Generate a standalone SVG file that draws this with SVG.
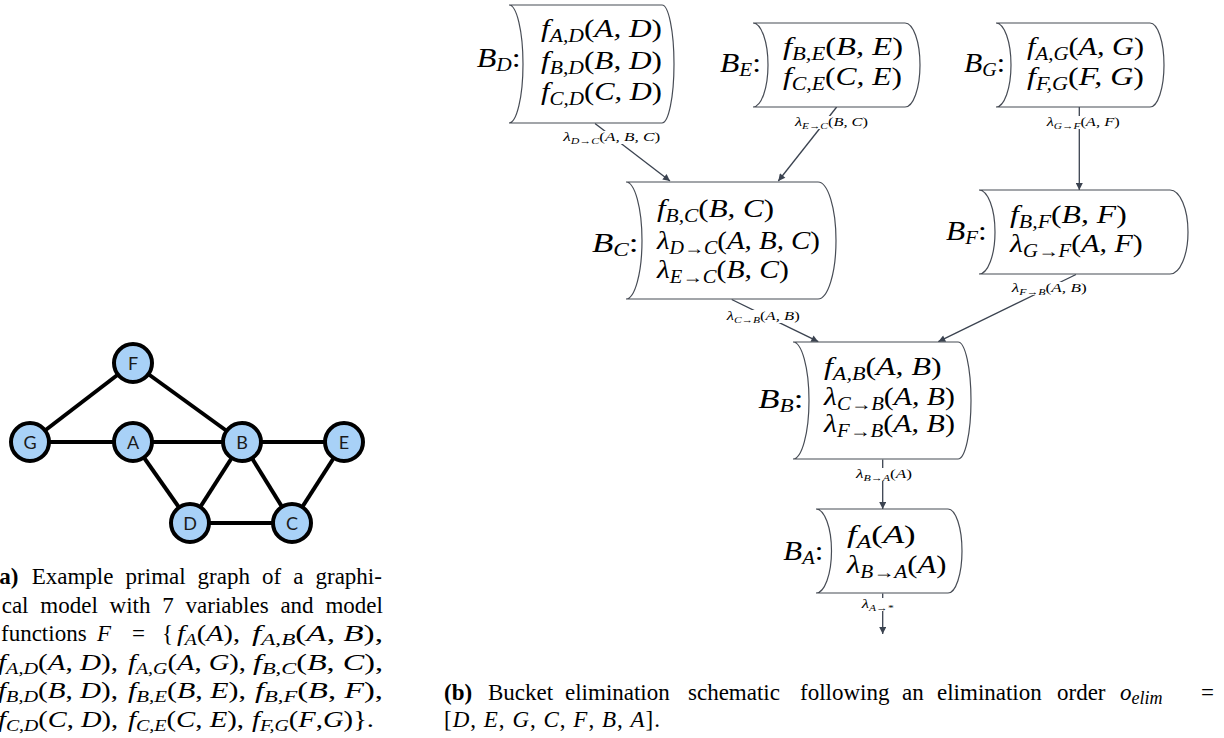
<svg xmlns="http://www.w3.org/2000/svg" width="1224" height="738" viewBox="0 0 1224 738">
<style>
.cap{font-family:"Liberation Serif",serif;font-size:23px;fill:#000}
.i{font-style:italic}
.s{font-size:16px}
.b{font-weight:bold}
.bk{font-family:"Liberation Serif",serif;font-style:italic;font-size:26px;fill:#000}
.bs{font-size:18px}
.bl{font-family:"Liberation Serif",serif;font-style:italic;font-size:27px;fill:#000}
.up{font-style:normal}
.sm{font-family:"Liberation Serif",serif;font-style:italic;font-size:13px;fill:#000}
.ss{font-size:9px}
.bucket{fill:#fff;stroke:#474c55;stroke-width:1.2}
.edge{stroke:#3b4350;stroke-width:1.3;fill:none}
.gedge{stroke:#000;stroke-width:4}
.gnode{fill:#a8d1f7;stroke:#000;stroke-width:4}
.glab{font-family:Lato,"Open Sans",sans-serif;font-size:18px;fill:#1a1a1a;text-anchor:middle}
</style>
<defs>
<marker id="ah" viewBox="0 0 10 10" refX="10" refY="5" markerWidth="10" markerHeight="7" markerUnits="userSpaceOnUse" orient="auto"><path d="M0,0 L10,5 L0,10 z" fill="#3b4350"/></marker>
</defs>
<rect width="1224" height="738" fill="#fff"/>

<!-- (a) primal graph -->
<g id="graph-edges">
<line class="gedge" x1="30" y1="442" x2="133" y2="363"/>
<line class="gedge" x1="133" y1="363" x2="242" y2="442"/>
<line class="gedge" x1="30" y1="442" x2="133" y2="442"/>
<line class="gedge" x1="133" y1="442" x2="242" y2="442"/>
<line class="gedge" x1="242" y1="442" x2="344" y2="442"/>
<line class="gedge" x1="133" y1="442" x2="190" y2="523"/>
<line class="gedge" x1="242" y1="442" x2="190" y2="523"/>
<line class="gedge" x1="242" y1="442" x2="292" y2="523"/>
<line class="gedge" x1="344" y1="442" x2="292" y2="523"/>
<line class="gedge" x1="190" y1="523" x2="292" y2="523"/>
</g>
<g id="node-F"><circle class="gnode" cx="133" cy="363" r="19"/><text class="glab" x="133" y="369.5">F</text></g>
<g id="node-G"><circle class="gnode" cx="30" cy="442" r="19"/><text class="glab" x="30" y="448.5">G</text></g>
<g id="node-A"><circle class="gnode" cx="133" cy="442" r="19"/><text class="glab" x="133" y="448.5">A</text></g>
<g id="node-B"><circle class="gnode" cx="242" cy="442" r="19"/><text class="glab" x="242" y="448.5">B</text></g>
<g id="node-E"><circle class="gnode" cx="344" cy="442" r="19"/><text class="glab" x="344" y="448.5">E</text></g>
<g id="node-D"><circle class="gnode" cx="190" cy="523" r="19"/><text class="glab" x="190" y="529.5">D</text></g>
<g id="node-C"><circle class="gnode" cx="292" cy="523" r="19"/><text class="glab" x="292" y="529.5">C</text></g>

<!-- caption (a) -->
<g id="caption-a">
<text class="cap" x="-8.4" y="584"><tspan class="b">(a)</tspan><tspan x="31.7">Example</tspan><tspan x="125.6">primal</tspan><tspan x="197.6">graph</tspan><tspan x="262">of</tspan><tspan x="293.3">a</tspan><tspan x="315.5">graphi-</tspan></text>
<text class="cap" x="1.7" y="612.5">cal<tspan x="40.3">model</tspan><tspan x="109.6">with</tspan><tspan x="162.3">7</tspan><tspan x="185.6">variables</tspan><tspan x="280.4">and</tspan><tspan x="325.4">model</tspan></text>
<text class="cap" x="1" y="641">functions<tspan x="97" class="i">F</tspan><tspan x="132">=</tspan><tspan x="162">{</tspan></text>
<text class="cap" x="177" y="641" textLength="63" lengthAdjust="spacingAndGlyphs"><tspan class="i">f</tspan><tspan class="i s" dy="4">A</tspan><tspan dy="-4">(</tspan><tspan class="i">A</tspan>),</text>
<text class="cap" x="252" y="641" textLength="131" lengthAdjust="spacingAndGlyphs"><tspan class="i">f</tspan><tspan class="i s" dy="4">A,B</tspan><tspan dy="-4">(</tspan><tspan class="i">A</tspan>, <tspan class="i">B</tspan>),</text>
<text class="cap" x="-2" y="669.5" textLength="120" lengthAdjust="spacingAndGlyphs"><tspan class="i">f</tspan><tspan class="i s" dy="4">A,D</tspan><tspan dy="-4">(</tspan><tspan class="i">A</tspan>, <tspan class="i">D</tspan>),</text>
<text class="cap" x="128" y="669.5" textLength="118" lengthAdjust="spacingAndGlyphs"><tspan class="i">f</tspan><tspan class="i s" dy="4">A,G</tspan><tspan dy="-4">(</tspan><tspan class="i">A</tspan>, <tspan class="i">G</tspan>),</text>
<text class="cap" x="253" y="669.5" textLength="130" lengthAdjust="spacingAndGlyphs"><tspan class="i">f</tspan><tspan class="i s" dy="4">B,C</tspan><tspan dy="-4">(</tspan><tspan class="i">B</tspan>, <tspan class="i">C</tspan>),</text>
<text class="cap" x="-2" y="698" textLength="120" lengthAdjust="spacingAndGlyphs"><tspan class="i">f</tspan><tspan class="i s" dy="4">B,D</tspan><tspan dy="-4">(</tspan><tspan class="i">B</tspan>, <tspan class="i">D</tspan>),</text>
<text class="cap" x="128" y="698" textLength="118" lengthAdjust="spacingAndGlyphs"><tspan class="i">f</tspan><tspan class="i s" dy="4">B,E</tspan><tspan dy="-4">(</tspan><tspan class="i">B</tspan>, <tspan class="i">E</tspan>),</text>
<text class="cap" x="255" y="698" textLength="128" lengthAdjust="spacingAndGlyphs"><tspan class="i">f</tspan><tspan class="i s" dy="4">B,F</tspan><tspan dy="-4">(</tspan><tspan class="i">B</tspan>, <tspan class="i">F</tspan>),</text>
<text class="cap" x="-2" y="726.5" textLength="120" lengthAdjust="spacingAndGlyphs"><tspan class="i">f</tspan><tspan class="i s" dy="4">C,D</tspan><tspan dy="-4">(</tspan><tspan class="i">C</tspan>, <tspan class="i">D</tspan>),</text>
<text class="cap" x="128" y="726.5" textLength="116" lengthAdjust="spacingAndGlyphs"><tspan class="i">f</tspan><tspan class="i s" dy="4">C,E</tspan><tspan dy="-4">(</tspan><tspan class="i">C</tspan>, <tspan class="i">E</tspan>),</text>
<text class="cap" x="252" y="726.5" textLength="122" lengthAdjust="spacingAndGlyphs"><tspan class="i">f</tspan><tspan class="i s" dy="4">F,G</tspan><tspan dy="-4">(</tspan><tspan class="i">F</tspan>,<tspan class="i">G</tspan>)}.</text>
</g>

<!-- (b) bucket elimination -->
<g id="connectors">
<line class="edge" x1="595" y1="123.5" x2="670" y2="181" marker-end="url(#ah)"/>
<line class="edge" x1="836.7" y1="107" x2="778.3" y2="181" marker-end="url(#ah)"/>
<line class="edge" x1="1079.3" y1="107" x2="1079.3" y2="190" marker-end="url(#ah)"/>
<line class="edge" x1="731.7" y1="299.5" x2="818.3" y2="341.7" marker-end="url(#ah)"/>
<line class="edge" x1="1076" y1="274.5" x2="938.3" y2="341.7" marker-end="url(#ah)"/>
<line class="edge" x1="882.7" y1="459.5" x2="882.7" y2="509" marker-end="url(#ah)"/>
<line class="edge" x1="882.7" y1="593.5" x2="882.7" y2="634" marker-end="url(#ah)"/>
<g fill="#fff">
<rect x="565" y="131" width="93" height="13"/>
<rect x="797" y="116" width="69" height="13"/>
<rect x="1049" y="116" width="69" height="13"/>
<rect x="729" y="310" width="69" height="13"/>
<rect x="1014" y="282" width="71" height="13"/>
<rect x="858" y="468" width="52" height="13"/>
<rect x="863" y="598" width="29" height="13"/>
</g>
<text class="sm" x="563.3" y="141" textLength="97" lengthAdjust="spacingAndGlyphs">λ<tspan class="ss" dy="3">D→C</tspan><tspan class="up" dy="-3">(</tspan>A, B, C<tspan class="up">)</tspan></text>
<text class="sm" x="795" y="126" textLength="73" lengthAdjust="spacingAndGlyphs">λ<tspan class="ss" dy="3">E→C</tspan><tspan class="up" dy="-3">(</tspan>B, C<tspan class="up">)</tspan></text>
<text class="sm" x="1046.7" y="126" textLength="73" lengthAdjust="spacingAndGlyphs">λ<tspan class="ss" dy="3">G→F</tspan><tspan class="up" dy="-3">(</tspan>A, F<tspan class="up">)</tspan></text>
<text class="sm" x="726.7" y="320" textLength="73" lengthAdjust="spacingAndGlyphs">λ<tspan class="ss" dy="3">C→B</tspan><tspan class="up" dy="-3">(</tspan>A, B<tspan class="up">)</tspan></text>
<text class="sm" x="1011.7" y="291.7" textLength="75" lengthAdjust="spacingAndGlyphs">λ<tspan class="ss" dy="3">F→B</tspan><tspan class="up" dy="-3">(</tspan>A, B<tspan class="up">)</tspan></text>
<text class="sm" x="856" y="478.3" textLength="56" lengthAdjust="spacingAndGlyphs">λ<tspan class="ss" dy="3">B→A</tspan><tspan class="up" dy="-3">(</tspan>A<tspan class="up">)</tspan></text>
<text class="sm" x="861.7" y="608" textLength="31.6" lengthAdjust="spacingAndGlyphs">λ<tspan class="ss" dy="3">A→*</tspan></text>
</g>

<g id="bucket-D">
<path class="bucket" d="M509,5 H662 A12,59 0 0 1 662,123 H509 A14,59 0 0 0 509,5 Z"/>
<text class="bl" x="476.7" y="66.7" textLength="44" lengthAdjust="spacingAndGlyphs">B<tspan class="bs" dy="4">D</tspan><tspan class="up" dy="-4">:</tspan></text>
<text class="bk" x="541" y="37" textLength="121" lengthAdjust="spacingAndGlyphs">f<tspan class="bs" dy="5">A,D</tspan><tspan class="up" dy="-5">(</tspan>A, D<tspan class="up">)</tspan></text>
<text class="bk" x="541" y="68.5" textLength="121" lengthAdjust="spacingAndGlyphs">f<tspan class="bs" dy="5">B,D</tspan><tspan class="up" dy="-5">(</tspan>B, D<tspan class="up">)</tspan></text>
<text class="bk" x="541" y="100" textLength="121" lengthAdjust="spacingAndGlyphs">f<tspan class="bs" dy="5">C,D</tspan><tspan class="up" dy="-5">(</tspan>C, D<tspan class="up">)</tspan></text>
</g>

<g id="bucket-E">
<path class="bucket" d="M753,23 H905 A15,42 0 0 1 905,107 H753 A15,42 0 0 0 753,23 Z"/>
<text class="bl" x="720" y="71.7" textLength="41" lengthAdjust="spacingAndGlyphs">B<tspan class="bs" dy="4">E</tspan><tspan class="up" dy="-4">:</tspan></text>
<text class="bk" x="783" y="55" textLength="120" lengthAdjust="spacingAndGlyphs">f<tspan class="bs" dy="5">B,E</tspan><tspan class="up" dy="-5">(</tspan>B, E<tspan class="up">)</tspan></text>
<text class="bk" x="783" y="85" textLength="119" lengthAdjust="spacingAndGlyphs">f<tspan class="bs" dy="5">C,E</tspan><tspan class="up" dy="-5">(</tspan>C, E<tspan class="up">)</tspan></text>
</g>

<g id="bucket-G">
<path class="bucket" d="M996,23 H1150 A14,42 0 0 1 1150,107 H996 A15,42 0 0 0 996,23 Z"/>
<text class="bl" x="964" y="71.7" textLength="41" lengthAdjust="spacingAndGlyphs">B<tspan class="bs" dy="4">G</tspan><tspan class="up" dy="-4">:</tspan></text>
<text class="bk" x="1027" y="55" textLength="117" lengthAdjust="spacingAndGlyphs">f<tspan class="bs" dy="5">A,G</tspan><tspan class="up" dy="-5">(</tspan>A, G<tspan class="up">)</tspan></text>
<text class="bk" x="1027" y="85" textLength="117" lengthAdjust="spacingAndGlyphs">f<tspan class="bs" dy="5">F,G</tspan><tspan class="up" dy="-5">(</tspan>F, G<tspan class="up">)</tspan></text>
</g>

<g id="bucket-C">
<path class="bucket" d="M626,182 H818 A18,58.5 0 0 1 818,299 H626 A16,58.5 0 0 0 626,182 Z"/>
<text class="bl" x="592" y="251.7" textLength="46.6" lengthAdjust="spacingAndGlyphs">B<tspan class="bs" dy="4">C</tspan><tspan class="up" dy="-4">:</tspan></text>
<text class="bk" x="657" y="217" textLength="117" lengthAdjust="spacingAndGlyphs">f<tspan class="bs" dy="5">B,C</tspan><tspan class="up" dy="-5">(</tspan>B, C<tspan class="up">)</tspan></text>
<text class="bk" x="657" y="248.5" textLength="163" lengthAdjust="spacingAndGlyphs">λ<tspan class="bs" dy="5">D→C</tspan><tspan class="up" dy="-5">(</tspan>A, B, C<tspan class="up">)</tspan></text>
<text class="bk" x="657" y="277.5" textLength="132" lengthAdjust="spacingAndGlyphs">λ<tspan class="bs" dy="5">E→C</tspan><tspan class="up" dy="-5">(</tspan>B, C<tspan class="up">)</tspan></text>
</g>

<g id="bucket-F">
<path class="bucket" d="M979,190 H1170 A18,42 0 0 1 1170,274 H979 A16,42 0 0 0 979,190 Z"/>
<text class="bl" x="946" y="240" textLength="40.7" lengthAdjust="spacingAndGlyphs">B<tspan class="bs" dy="4">F</tspan><tspan class="up" dy="-4">:</tspan></text>
<text class="bk" x="1010" y="223.3" textLength="116.7" lengthAdjust="spacingAndGlyphs">f<tspan class="bs" dy="5">B,F</tspan><tspan class="up" dy="-5">(</tspan>B, F<tspan class="up">)</tspan></text>
<text class="bk" x="1010" y="251.7" textLength="132.7" lengthAdjust="spacingAndGlyphs">λ<tspan class="bs" dy="5">G→F</tspan><tspan class="up" dy="-5">(</tspan>A, F<tspan class="up">)</tspan></text>
</g>

<g id="bucket-B">
<path class="bucket" d="M793,342 H958 A13,58.5 0 0 1 958,459 H793 A16,58.5 0 0 0 793,342 Z"/>
<text class="bl" x="758.3" y="408.3" textLength="45" lengthAdjust="spacingAndGlyphs">B<tspan class="bs" dy="4">B</tspan><tspan class="up" dy="-4">:</tspan></text>
<text class="bk" x="824" y="375" textLength="117.7" lengthAdjust="spacingAndGlyphs">f<tspan class="bs" dy="5">A,B</tspan><tspan class="up" dy="-5">(</tspan>A, B<tspan class="up">)</tspan></text>
<text class="bk" x="824" y="405" textLength="131" lengthAdjust="spacingAndGlyphs">λ<tspan class="bs" dy="5">C→B</tspan><tspan class="up" dy="-5">(</tspan>A, B<tspan class="up">)</tspan></text>
<text class="bk" x="824" y="431.7" textLength="131" lengthAdjust="spacingAndGlyphs">λ<tspan class="bs" dy="5">F→B</tspan><tspan class="up" dy="-5">(</tspan>A, B<tspan class="up">)</tspan></text>
</g>

<g id="bucket-A">
<path class="bucket" d="M816,509 H948 A14,42 0 0 1 948,593 H816 A15.5,42 0 0 0 816,509 Z"/>
<text class="bl" x="783.3" y="560" textLength="40" lengthAdjust="spacingAndGlyphs">B<tspan class="bs" dy="4">A</tspan><tspan class="up" dy="-4">:</tspan></text>
<text class="bk" x="847" y="543.3" textLength="68.7" lengthAdjust="spacingAndGlyphs">f<tspan class="bs" dy="5">A</tspan><tspan class="up" dy="-5">(</tspan>A<tspan class="up">)</tspan></text>
<text class="bk" x="847" y="573.3" textLength="99.4" lengthAdjust="spacingAndGlyphs">λ<tspan class="bs" dy="5">B→A</tspan><tspan class="up" dy="-5">(</tspan>A<tspan class="up">)</tspan></text>
</g>

<!-- caption (b) -->
<g id="caption-b">
<text class="cap" x="444" y="700"><tspan class="b">(b)</tspan><tspan x="488">Bucket</tspan><tspan x="565">elimination</tspan><tspan x="688">schematic</tspan><tspan x="800">following</tspan><tspan x="902">an</tspan><tspan x="937">elimination</tspan><tspan x="1057">order</tspan></text>
<text class="cap i" x="1120" y="700">o<tspan font-size="18" dy="4">elim</tspan></text>
<text class="cap" x="1201" y="700">=</text>
<text class="cap" x="444" y="727" textLength="216" lengthAdjust="spacing">[<tspan class="i">D</tspan>, <tspan class="i">E</tspan>, <tspan class="i">G</tspan>, <tspan class="i">C</tspan>, <tspan class="i">F</tspan>, <tspan class="i">B</tspan>, <tspan class="i">A</tspan>].</text>
</g>
</svg>
